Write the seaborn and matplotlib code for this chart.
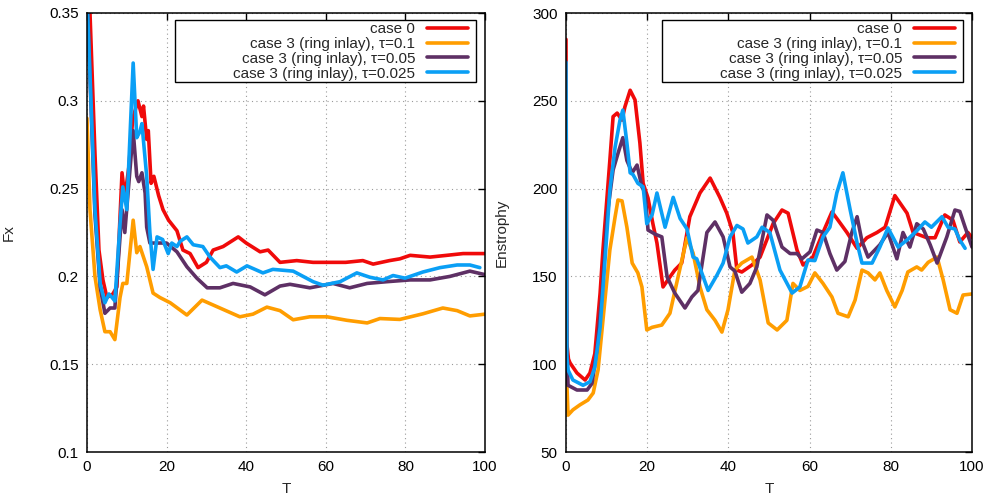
import numpy as np
import pandas as pd
import seaborn as sns
import matplotlib
matplotlib.use("Agg")
import matplotlib.pyplot as plt
from matplotlib.patches import Rectangle

# series labels and colours
labels = ["case 0",
          "case 3 (ring inlay), τ=0.1",
          "case 3 (ring inlay), τ=0.05",
          "case 3 (ring inlay), τ=0.025"]
colors = ["#f00a0a", "#ff9d00", "#5e3065", "#0a9ff5"]

# ---- left panel: Fx ----
red_T = [0, 0.75, 2, 3, 4, 5, 6.5, 7.5, 8.8, 9.5, 10.5, 11.5, 12.8, 13.8, 14.2, 15, 15.4, 16.1, 16.8, 18,
         19.1, 20.5, 22.6, 24.1, 25.9, 27.9, 30, 31.7, 34.2, 38, 40, 43.5, 45.5, 48.5, 52.7, 56.8, 65, 69.3,
         71.9, 76, 78.6, 81.2, 86.2, 90.4, 94.5, 100]
red_Fx = [0.45, 0.35, 0.27, 0.215, 0.198, 0.188, 0.19, 0.194, 0.259, 0.245, 0.262, 0.29, 0.300, 0.291, 0.297,
          0.278, 0.283, 0.253, 0.257, 0.246, 0.238, 0.232, 0.226, 0.215, 0.213, 0.205, 0.208, 0.215, 0.217,
          0.2225, 0.219, 0.214, 0.215, 0.208, 0.209, 0.208, 0.208, 0.209, 0.207, 0.209, 0.210, 0.212, 0.211,
          0.212, 0.213, 0.213]

orange_T = [0, 0.75, 2, 3.3, 4.5, 5.8, 7, 8.3, 9, 10, 11.6, 12.5, 13.3, 15, 16.6, 18.3, 20.9, 25.1, 28.9, 33.4,
            38.4, 41.7, 45.2, 48.5, 51.8, 56, 60.3, 65.3, 70.4, 73.6, 78.6, 84.4, 89.4, 93, 96.2, 100]
orange_Fx = [0.29, 0.238, 0.200, 0.181, 0.1685, 0.1685, 0.164, 0.188, 0.196, 0.196, 0.232, 0.2135, 0.217,
             0.2055, 0.1905, 0.188, 0.185, 0.178, 0.1865, 0.182, 0.177, 0.1785, 0.1825, 0.1805, 0.1753, 0.177,
             0.177, 0.175, 0.1735, 0.176, 0.1755, 0.1787, 0.182, 0.1805, 0.1775, 0.1785]

purple_T = [0, 2, 3.3, 4.5, 5.8, 7, 8.8, 9.5, 11.6, 12.5, 13, 13.8, 14.6, 15, 15.8, 16.6, 18.3, 20, 22.6, 25.1,
            27.6, 30.2, 33.4, 36.7, 41, 44.7, 48.5, 51, 56, 61.8, 66, 70.4, 75.4, 81.2, 86.2, 91.2, 96.2, 100]
purple_Fx = [0.36, 0.235, 0.194, 0.179, 0.182, 0.182, 0.238, 0.225, 0.283, 0.257, 0.254, 0.259, 0.2475, 0.228,
             0.219, 0.219, 0.219, 0.219, 0.214, 0.2055, 0.199, 0.1935, 0.1935, 0.196, 0.194, 0.1895, 0.1945,
             0.1955, 0.1935, 0.196, 0.1935, 0.196, 0.197, 0.198, 0.198, 0.200, 0.203, 0.201]

blue_T = [0, 1, 2, 3.3, 4.5, 5.5, 6.3, 7, 8.3, 9, 10, 11.6, 12.5, 13.3, 13.8, 15, 15.8, 16.6, 17.6, 19, 20.4,
          21.3, 22.6, 23.4, 25.1, 26.7, 29.1, 30.9, 33.4, 35, 37.6, 40.2, 44.2, 46.7, 51.8, 56.8, 59.3, 63.6,
          67.8, 71.1, 74.4, 76.9, 79.9, 84.4, 88.7, 93, 96.2, 98.7]
blue_Fx = [0.36, 0.30, 0.238, 0.196, 0.185, 0.19, 0.188, 0.186, 0.230, 0.251, 0.238, 0.3215, 0.279, 0.2825,
           0.287, 0.257, 0.225, 0.204, 0.2225, 0.221, 0.213, 0.219, 0.217, 0.220, 0.2225, 0.218, 0.217, 0.211,
           0.205, 0.206, 0.2025, 0.206, 0.202, 0.204, 0.203, 0.197, 0.195, 0.197, 0.202, 0.1995, 0.198, 0.2005,
           0.199, 0.2025, 0.205, 0.2065, 0.2065, 0.205]

# ---- right panel: Enstrophy ----
red_Te = [0, 0.2, 0.6, 1, 2.7, 4.7, 5.9, 7.1, 8.4, 9.1, 10.8, 11.6, 12.6, 13.8, 14.5, 15.8, 17, 18.2, 19, 20.2,
          21.4, 22.4, 23.9, 25.6, 26.8, 28.5, 30.5, 33, 35.5, 37.9, 39.6, 41.1, 42.1, 43.3, 45.8, 47.8, 51, 53.2,
          54.7, 56.9, 58.4, 60.8, 63.3, 65.5, 66.7, 69.2, 71.7, 74.1, 76.6, 78.6, 81, 84, 85.5, 88.9, 90.9, 93.3,
          95.3, 97, 99, 100]
red_E = [285, 112, 103, 100.7, 95, 91, 95, 106, 140.5, 165, 216, 241, 243, 239, 246.5, 256, 250.5, 226, 203,
         194.6, 180, 169, 144, 149.7, 153.6, 157.6, 184, 197.5, 206, 195, 186, 175, 153.6, 152.5, 156.5, 161, 180,
         187.8, 186, 165, 156.5, 161, 175, 186.7, 183, 175, 166, 172, 175, 178, 196, 186, 175, 172, 172, 185, 182,
         169.6, 175, 172]

orange_Te = [0, 0.2, 0.5, 1.7, 3.4, 5.4, 6.7, 7.9, 9.1, 10.8, 12.1, 12.8, 13.8, 15, 16.3, 17.7, 18.7, 19.9, 21.2,
             23.6, 25.6, 27.6, 29.8, 31.3, 33, 34.7, 36.7, 38.4, 39.9, 41.6, 43.3, 45.8, 47.8, 49.8, 52, 54.4,
             55.9, 57.6, 59.6, 61.3, 63.3, 65.5, 67, 69.5, 71.2, 72.9, 74.4, 76.1, 77.3, 79, 81, 82.8, 84.2, 86.4,
             87.6, 89.2, 91.4, 92.9, 94.6, 96.3, 97.8, 100]
orange_E = [135, 90, 71, 74, 76.8, 79.6, 83.6, 96.7, 125, 165, 184, 193.5, 193, 178, 157.6, 152, 144, 119.5, 121,
            122.3, 129, 149.7, 172, 163.3, 144, 131, 125, 118.3, 131, 153.6, 157.6, 161, 148, 123.5, 119.5, 125,
            146, 142, 144.3, 152, 146, 138.3, 129, 127, 136.5, 153.6, 152, 148, 152, 142, 132.6, 142, 152.5,
            155.4, 153.6, 158, 161, 148, 131, 129, 139.4, 140]

purple_Te = [0, 0.2, 0.5, 2.7, 5.2, 6.4, 7.6, 8.9, 10.1, 11.6, 12.8, 14, 15, 16.3, 17.5, 18.7, 19.5, 20.2, 22,
             23.6, 24.9, 26.8, 29.3, 31, 32.5, 34.7, 36.7, 38.7, 40.4, 41.6, 43.3, 45.3, 47, 49.5, 51, 53.2, 55.2,
             56.9, 58.1, 60.1, 61.8, 63.3, 65, 66.7, 68.7, 70.4, 71.7, 72.9, 74.4, 77.3, 79.3, 81.5, 83, 84.7,
             86.4, 88, 89.7, 91.4, 93.8, 95.8, 97, 98.3, 100]
purple_E = [200, 110, 88, 85.3, 85.3, 89, 108, 140.5, 184, 210.6, 220, 229, 216, 209, 213.4, 201, 197.5, 176.4,
            174, 172.5, 149.7, 140.5, 132, 138.3, 142, 175, 181, 172.5, 155.4, 153, 141, 146, 155.4, 185, 182,
            166.7, 163, 163, 160, 164, 176.4, 175, 163, 153.6, 158.5, 175, 184, 170, 161, 168, 175, 160, 175,
            166.7, 180, 177, 168, 157.6, 172.5, 187.8, 187, 178, 166.7]

blue_Te = [0, 0.2, 0.5, 1.7, 4.2, 5.9, 7.1, 8.4, 9.6, 10.8, 12.1, 13.3, 14, 15, 15.8, 16.5, 17.7, 19, 19.9, 21.2,
           22.4, 24.4, 26.4, 28.1, 29.8, 31.3, 32.2, 35, 37.2, 38.7, 40.4, 42.1, 43.6, 44.8, 47, 48.3, 50.2, 52.7,
           55.7, 57.6, 59.6, 61.3, 63.3, 65, 66.7, 68.2, 70, 71.7, 72.9, 75.4, 77.3, 79.3, 81.8, 84, 86.4, 88.4,
           90, 92.6, 94.1, 95.8, 97, 98.3]
blue_E = [272, 105, 96.7, 91, 88, 90, 98.4, 121, 159, 199, 223.7, 239, 244.7, 226, 209, 208, 203, 201, 180, 185,
          197.5, 178, 195, 183, 177, 161, 160, 142, 150.8, 157.6, 172.5, 179, 177, 169, 172.5, 178, 175, 153.6,
          140.5, 144, 159.3, 159, 172.5, 178, 197.5, 209, 187.8, 169, 157.6, 157.6, 166.7, 177.6, 166.7, 170.7,
          176, 181, 178, 184, 178, 177, 170.7, 166]


def long_frame(ts, vs):
    parts = []
    for lab, t, v in zip(labels, ts, vs):
        parts.append(pd.DataFrame({"T": t, "value": v, "series": lab}))
    return pd.concat(parts, ignore_index=True)


df_fx = long_frame([red_T, orange_T, purple_T, blue_T], [red_Fx, orange_Fx, purple_Fx, blue_Fx])
df_en = long_frame([red_Te, orange_Te, purple_Te, blue_Te], [red_E, orange_E, purple_E, blue_E])

sns.set_style("white")
plt.rcParams["font.family"] = ["Liberation Sans", "DejaVu Sans"]
FS = 11

fig = plt.figure(figsize=(9.9, 5), dpi=100)
# axes boxes in pixels: left panel 87..485, right panel 566..972, rows 13..452
ax1 = fig.add_axes([87 / 990, 48 / 500, 398 / 990, 439 / 500])
ax2 = fig.add_axes([566 / 990, 48 / 500, 406 / 990, 439 / 500])


def draw(ax, df, ylim, yticks, ytick_labels, ylabel, x0, w, ylab_px):
    sns.lineplot(data=df, x="T", y="value", hue="series", hue_order=labels, palette=colors,
                 estimator=None, sort=False, lw=2.6, legend=False, ax=ax)
    ax.set_xlim(0, 100)
    ax.set_ylim(*ylim)
    ax.set_xticks([0, 20, 40, 60, 80, 100])
    ax.set_yticks(yticks)
    ax.set_yticklabels(ytick_labels)
    ax.grid(True, linestyle=(0, (1, 3)), color="#9a9a9a", lw=0.8)
    ax.tick_params(direction="in", top=True, right=True, length=5, width=1,
                   labelsize=FS, colors="black", pad=6)
    for s in ax.spines.values():
        s.set_color("black")
        s.set_linewidth(1.1)
    ax.set_xlabel("T", fontsize=FS)
    ax.set_ylabel(ylabel, fontsize=FS)
    ax.xaxis.set_label_coords(0.5, -(482 - 452) / 439)
    ax.yaxis.set_label_coords((ylab_px - x0) / w, 0.5)

    # legend: text right-aligned, sample lines on the right, framed box
    leg = ax.legend(ax.get_lines()[:4], labels, loc="upper right", markerfirst=False,
                    frameon=False, bbox_to_anchor=((w - 17) / w, 1 - (22 - 13) / 439),
                    borderaxespad=0, borderpad=0, handlelength=2.7, handletextpad=0.75,
                    labelspacing=0.06, fontsize=FS)
    bx0 = (w - 310) / w
    bx1 = (w - 9) / w
    ax.add_patch(Rectangle((bx0, 1 - (82 - 13) / 439), bx1 - bx0, (82 - 20) / 439,
                           transform=ax.transAxes, fill=True, facecolor="white",
                           edgecolor="black", lw=1, zorder=4))
    leg.set_zorder(5)


draw(ax1, df_fx, (0.1, 0.35), [0.1, 0.15, 0.2, 0.25, 0.3, 0.35],
     ["0.1", "0.15", "0.2", "0.25", "0.3", "0.35"], "Fx", 87, 398, 16)
draw(ax2, df_en, (50, 300), [50, 100, 150, 200, 250, 300],
     ["50", "100", "150", "200", "250", "300"], "Enstrophy", 566, 406, 509)

fig.savefig("out.png", dpi=100)
